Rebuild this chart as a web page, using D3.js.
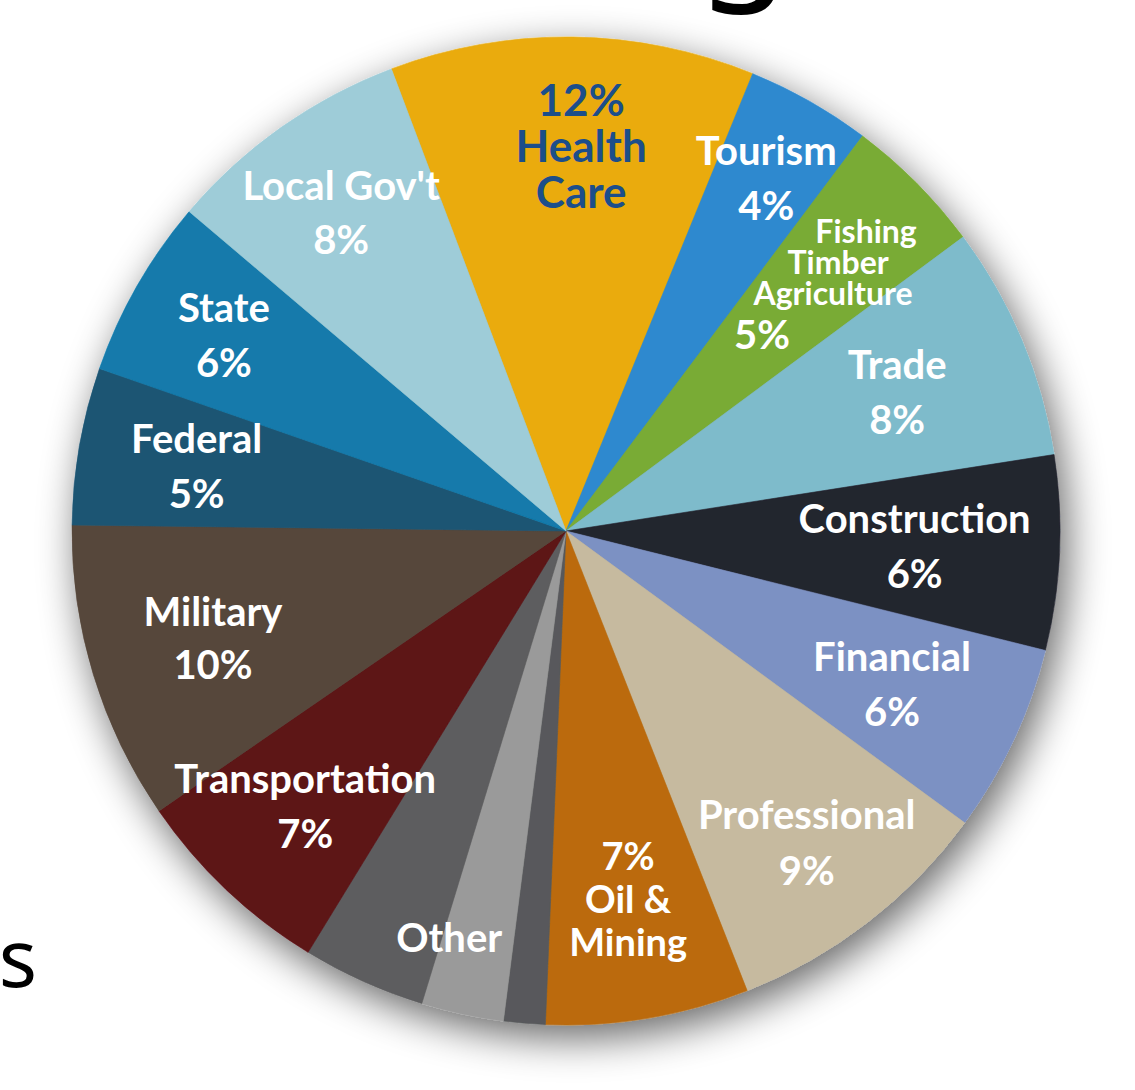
<!DOCTYPE html>
<html>
<head>
<meta charset="utf-8">
<script src="https://cdn.jsdelivr.net/npm/d3@7/dist/d3.min.js"></script>
<style>
  html, body { margin: 0; padding: 0; background: #ffffff; }
  svg { display: block; }
</style>
</head>
<body>
<svg id="chart" width="1135" height="1090"></svg>
<script>
// ---- Data (clockwise from Health Care) ----
const categories = ["Health Care", "Tourism", "Fishing Timber Agriculture", "Trade", "Construction",
  "Financial", "Professional", "Oil & Mining", "Other (a)", "Other (b)", "Other (c)",
  "Transportation", "Military", "Federal", "State", "Local Gov't"];
const shares = [11.92, 4.08, 4.61, 7.67, 6.36, 6.17, 8.97, 6.64, 1.36, 2.69, 4.03, 6.67, 9.78, 5.14, 5.86, 8.06];
const labelLines = [
  ["12%", "Health", "Care"],
  ["Tourism", "4%"],
  ["Fishing", "Timber", "Agriculture", "5%"],
  ["Trade", "8%"],
  ["Construction", "6%"],
  ["Financial", "6%"],
  ["Professional", "9%"],
  ["7%", "Oil &", "Mining"],
  [],
  ["Other"],
  [],
  ["Transportation", "7%"],
  ["Military", "10%"],
  ["Federal", "5%"],
  ["State", "6%"],
  ["Local Gov't", "8%"]
];
const colors = ["#EAAB0A", "#2E89CF", "#79AB35", "#7EBBCB", "#23252F", "#7C91C3", "#C6BA9F", "#BB6B0D",
  "#58595B", "#9A9A9A", "#5D5D5E", "#5D1315", "#56473B", "#1E5573", "#127AAB", "#9ECCD8"];

// ---- Layout (kept separate from data) ----
const W = 1135, H = 1090;
const cx = 566, cy = 531, R = 494;
const startDeg = -20.7;
const labelR   = [385, 406, 359, 359, 349, 360, 394, 374, 0, 423, 0, 379, 369, 375, 394, 390];
const labelShiftDeg = [1.5, 0, 1, 0, 0, 0, 0, 0, 0, 3.9, 0, 0, 0, 0, 0, 0];
const lineGap = [46, 55, 31, 55, 55, 55, 56, 43, 0, 0, 0, 55, 53, 55, 55, 54];
const fontSize = [44, 40, 32, 40, 40, 40, 40, 38, 0, 40, 0, 40, 40, 40, 40, 40];
const textColor = (i) => i === 0 ? "#1C4E8A" : "#ffffff";
// per-line nudges for the stacked Fishing/Timber/Agriculture label
const lineDx = { 2: [41, 13, 8, -63] };
const lineDy = { 2: [-51, -20, 11, 52] };
const lineSize = { 2: [32, 32, 32, 40] };

const svg = d3.select("#chart");

// drop shadow filter
const defs = svg.append("defs");
const f = defs.append("filter").attr("id", "shadow")
  .attr("x", "-20%").attr("y", "-20%").attr("width", "140%").attr("height", "140%");
f.append("feGaussianBlur").attr("in", "SourceAlpha").attr("stdDeviation", 20).attr("result", "blur");
f.append("feOffset").attr("in", "blur").attr("dx", 7).attr("dy", 13).attr("result", "off");
f.append("feComponentTransfer").attr("in", "off").attr("result", "soft")
  .append("feFuncA").attr("type", "linear").attr("slope", 0.6);
const fm = f.append("feMerge");
fm.append("feMergeNode").attr("in", "soft");
fm.append("feMergeNode").attr("in", "SourceGraphic");

// cropped title fragments
svg.append("text")
  .attr("x", 744).attr("y", -21)
  .attr("text-anchor", "middle")
  .attr("font-family", "'Noto Sans', 'DejaVu Sans', sans-serif")
  .attr("font-size", 150)
  .attr("font-weight", 400)
  .attr("fill", "#000")
  .text("g");
svg.append("text")
  .attr("x", 37).attr("y", 987)
  .attr("text-anchor", "end")
  .attr("font-family", "'Noto Sans', 'DejaVu Sans', sans-serif")
  .attr("font-size", 80)
  .attr("fill", "#000")
  .text("s");

const toRad = d3.scaleLinear().domain([0, 360]).range([0, 2 * Math.PI]);
const pie = d3.pie().sort(null).value(d => d)
  .startAngle(toRad(startDeg)).endAngle(toRad(startDeg + 360));
const arcs = pie(shares);
const arc = d3.arc().innerRadius(0).outerRadius(R);

const g = svg.append("g").attr("transform", `translate(${cx},${cy})`);
const slices = g.append("g").attr("filter", "url(#shadow)");
slices.selectAll("path").data(arcs).join("path")
  .attr("d", arc)
  .attr("fill", (d, i) => colors[i])
  .attr("stroke", (d, i) => colors[i])
  .attr("stroke-width", 0.6);

// labels
const labels = g.append("g")
  .attr("font-family", "Lato, 'Open Sans', sans-serif")
  .attr("font-weight", 700)
  .attr("text-anchor", "middle");
arcs.forEach((d, i) => {
  const lines = labelLines[i];
  if (!lines.length) return;
  const la = d3.arc().innerRadius(labelR[i]).outerRadius(labelR[i])
    .startAngle(d.startAngle + toRad(labelShiftDeg[i]))
    .endAngle(d.endAngle + toRad(labelShiftDeg[i]));
  const [x, y] = la.centroid();
  const n = lines.length;
  lines.forEach((t, k) => {
    const dx = lineDx[i] ? lineDx[i][k] : 0;
    const dy = lineDy[i] ? lineDy[i][k] : (k - (n - 1) / 2) * lineGap[i];
    const fs = lineSize[i] ? lineSize[i][k] : fontSize[i];
    labels.append("text")
      .attr("x", x + dx)
      .attr("y", y + dy)
      .attr("dy", "0.36em")
      .attr("font-size", fs)
      .attr("fill", textColor(i))
      .text(t);
  });
});
</script>
</body>
</html>
